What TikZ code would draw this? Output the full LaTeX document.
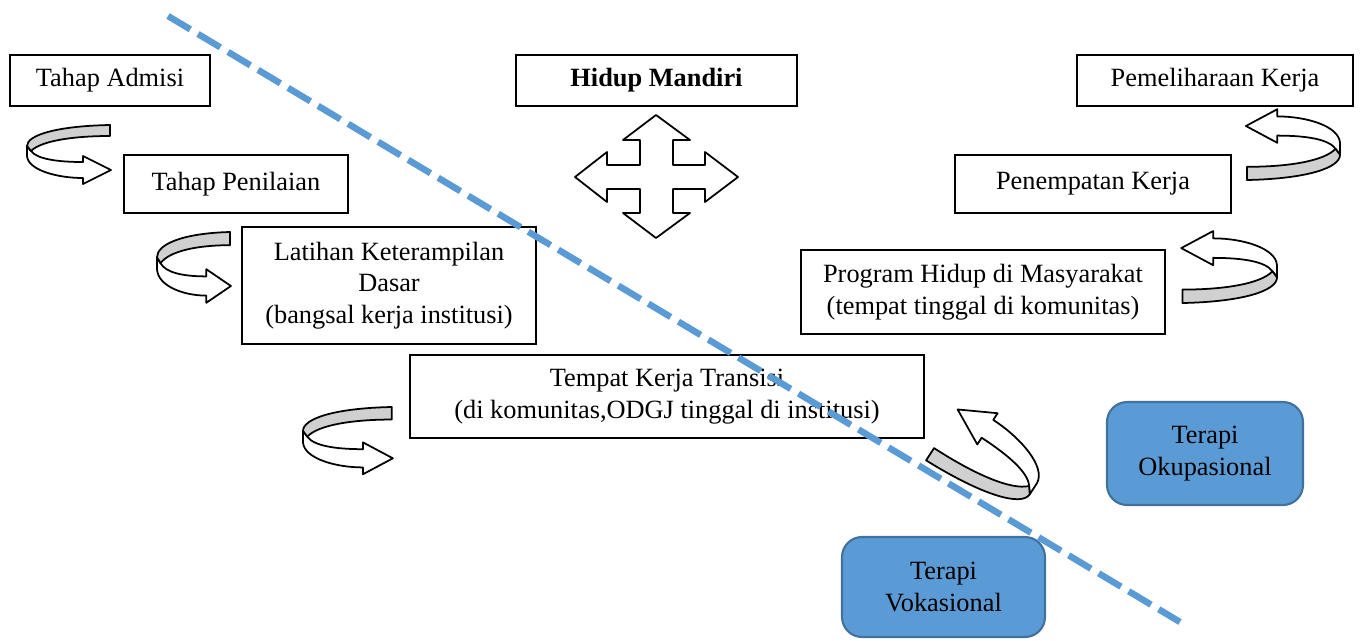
\documentclass[tikz,border=0pt]{standalone}
\usepackage{fontspec}
\setmainfont{Liberation Serif}
\usetikzlibrary{positioning}

\definecolor{cutblue}{RGB}{91,155,213}
\definecolor{edgeblue}{RGB}{65,113,156}
\definecolor{bandgray}{RGB}{208,208,208}

% u-turn arrow, drawn in a local frame (loop on the left, head to the right)
\newcommand{\turnarrow}[1]{%
  \begin{scope}[#1]
    \draw[turn] (0,21) -- (0,31) .. controls (1,45) and (30,53) .. (56,53) -- (56,59) -- (84,45) -- (56,31) -- (56,37) .. controls (30,37) and (10,34) .. (4,26) -- cycle;
    \draw[turn, fill=bandgray] (83,0) .. controls (30,1) and (0,10) .. (0,21) -- (4,26) .. controls (14,16) and (45,11) .. (83,11) -- cycle;
  \end{scope}}

\begin{document}
\begin{tikzpicture}[x=0.02cm, y=-0.02cm,
    font=\fontsize{15}{18}\selectfont,
    box/.style={draw, line width=0.9pt, align=center, inner sep=0pt},
    therapy/.style={box, rounded corners=0.4cm, fill=cutblue, draw=edgeblue, line width=1.2pt},
    turn/.style={draw, fill=white, line width=1pt, line join=round}]
	\useasboundingbox (0,0) rectangle (1363,640);

	\node[box, minimum width=4cm, minimum height=1.02cm] (admisi) at (110, 80.5) {Tahap Admisi};
	\node[box, minimum width=5.62cm, minimum height=1.02cm] (mandiri) at (656.5, 80.5) {\textbf{Hidup Mandiri}};
	\node[box, minimum width=5.52cm, minimum height=1.02cm] (pemeliharaan) at (1215, 80.5) {Pemeliharaan Kerja};
	\node[box, minimum width=4.48cm, minimum height=1.16cm] (penilaian) at (236, 184) {Tahap Penilaian};
	\node[box, minimum width=5.52cm, minimum height=1.16cm] (penempatan) at (1093, 184) {Penempatan Kerja};
	\node[box, minimum width=5.88cm, minimum height=2.34cm] (latihan) at (389, 285.5) {Latihan Keterampilan\\Dasar\\(bangsal kerja institusi)};
	\node[box, minimum width=7.28cm, minimum height=1.68cm] (program) at (983, 292) {Program Hidup di Masyarakat\\(tempat tinggal di komunitas)};
	\node[box, minimum width=10.28cm, minimum height=1.66cm] (transisi) at (667, 396.5) {Tempat Kerja Transisi\\(di komunitas,ODGJ tinggal di institusi)};
	\node[therapy, minimum width=3.92cm, minimum height=2.06cm] (okupasi) at (1205, 453.5) {Terapi\\Okupasional};
	\node[therapy, minimum width=4.06cm, minimum height=2cm] (vokasi) at (943.5, 587) {Terapi\\Vokasional};

	% four way arrow under Hidup Mandiri
	\draw[turn] (656,115) -- (690,140) -- (673,140) -- (673,165) -- (705,165) -- (705,152) -- (738,177) -- (705,202) -- (705,189) -- (673,189) -- (673,213) -- (690,213) -- (656,238) -- (623,213) -- (640,213) -- (640,189) -- (607,189) -- (607,202) -- (575,177) -- (607,152) -- (607,165) -- (640,165) -- (640,140) -- (623,140) -- cycle;

	% turning arrows
	\turnarrow{shift={(27,125)}}
	\turnarrow{shift={(157,232)}, xscale=0.88, yscale=1.2}
	\turnarrow{shift={(303,407)}, xscale=1.07, yscale=1.14}
	\turnarrow{shift={(1340,180)}, rotate=180, xscale=1.12, yscale=1.2}
	\turnarrow{shift={(1277,303)}, rotate=180, xscale=1.14, yscale=1.22}
	\turnarrow{shift={(1014.5,517.75)}, rotate=147, xscale=1.27, yscale=1.33}

	% dashed cut line
	\coordinate (cutA) at (168, 16);
	\coordinate (cutB) at (1180, 622);
	\draw[cutblue, line width=0.13cm, dash pattern=on 0.52cm off 0.18cm] (cutA) -- (cutB);
\end{tikzpicture}
\end{document}
